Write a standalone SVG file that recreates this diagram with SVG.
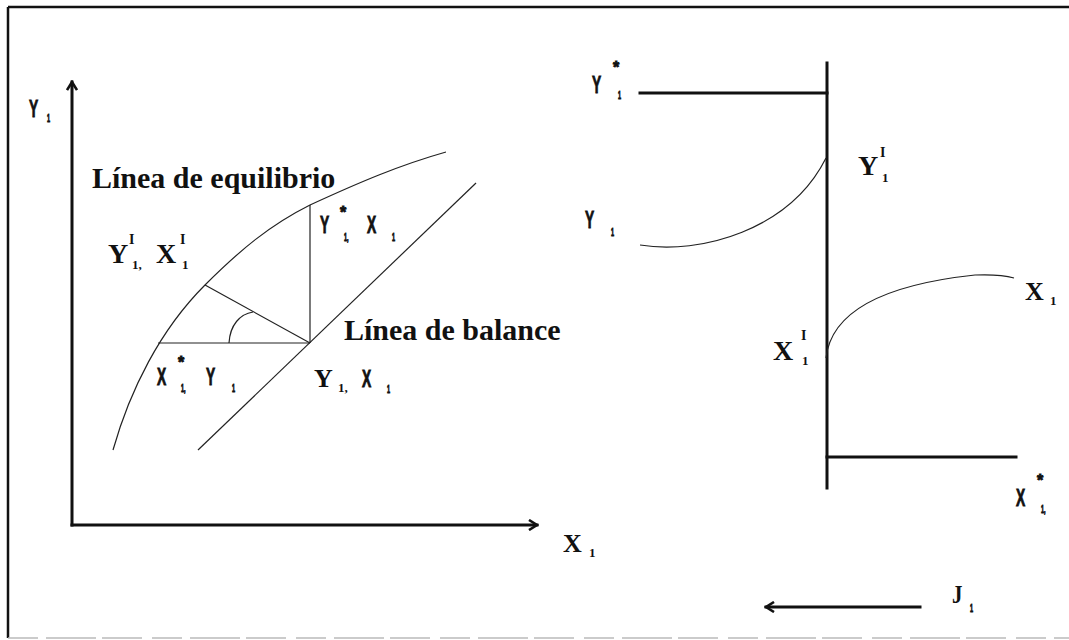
<svg xmlns="http://www.w3.org/2000/svg" width="1069" height="640" viewBox="0 0 1069 640">
<style>
.thick{stroke:#111;stroke-width:3;fill:none;stroke-linecap:square}
.thin{stroke:#222;stroke-width:1.2;fill:none}
.b{font-family:"Liberation Serif",serif;font-weight:bold;fill:#111}
.c{font-family:"Liberation Sans",sans-serif;font-weight:bold;fill:#111;stroke:#111;stroke-width:0.9}
</style>
<defs>
<marker id="chev" viewBox="0 0 12 12" refX="10" refY="6" markerWidth="12" markerHeight="12" markerUnits="userSpaceOnUse" orient="auto">
<path d="M2,1 L10,6 L2,11" stroke="#111" stroke-width="2.6" fill="none"/>
</marker>
</defs>
<rect width="1069" height="640" fill="#fff"/>
<g id="frame">
<line x1="8" y1="7" x2="1069" y2="7" stroke="#111" stroke-width="2.5"/>
<line x1="8" y1="7" x2="8" y2="638" stroke="#111" stroke-width="2.5"/>
<line x1="8" y1="638" x2="1069" y2="638" stroke="#bbb" stroke-width="1.5" stroke-dasharray="30,8,50,6,40,10"/>
</g>
<g id="connectors">
<line class="thick" x1="72" y1="525" x2="72" y2="82" marker-end="url(#chev)"/>
<line class="thick" x1="72" y1="525" x2="537" y2="525" marker-end="url(#chev)"/>
<path class="thin" d="M113,450 C130,390 160,330 205,285 C240,250 270,225 310,205 C360,182 400,165 446,152"/>
<line class="thin" x1="198" y1="450" x2="476" y2="183"/>
<line class="thin" x1="310" y1="205" x2="310" y2="343"/>
<line class="thin" x1="158" y1="343" x2="310" y2="343"/>
<line class="thin" x1="205" y1="285" x2="310" y2="343"/>
<path class="thin" d="M229,343 C230,325 240,314 253,312"/>
<line class="thick" x1="827" y1="63" x2="827" y2="488"/>
<line class="thick" x1="640" y1="93" x2="827" y2="93"/>
<line class="thick" x1="827" y1="457" x2="1016" y2="457"/>
<path class="thin" d="M640,245 C700,255 790,230 826,158"/>
<path class="thin" d="M826,358 C832,305 900,283 975,275 Q1000,274 1014,278"/>
<line class="thick" x1="920" y1="607" x2="766" y2="607" marker-end="url(#chev)"/>
</g>
<g id="label-y-axis">
<text class="c" font-size="23" transform="translate(29 117) scale(0.6 1)">Y</text>
<text class="c" font-size="11" transform="translate(47 122) scale(0.5 1)">1</text>
</g>
<g id="label-equilibrio"><text class="b" font-size="30" x="92" y="188">Línea de equilibrio</text></g>
<g id="label-balance"><text class="b" font-size="30" x="344" y="340">Línea de balance</text></g>
<g id="label-yi-xi">
<text class="b" font-size="28" x="108" y="263">Y</text>
<text class="b" font-size="14" x="129" y="244">I</text>
<text class="b" font-size="13" x="132" y="269">1,</text>
<text class="b" font-size="28" x="156" y="263">X</text>
<text class="b" font-size="14" x="180" y="244">I</text>
<text class="b" font-size="13" x="182" y="269">1</text>
</g>
<g id="label-ystar-x">
<text class="c" font-size="23" transform="translate(320 233) scale(0.6 1)">Y</text>
<text class="c" font-size="16" x="340" y="218">*</text>
<text class="c" font-size="11" transform="translate(344 241) scale(0.5 1)">1,</text>
<text class="c" font-size="23" transform="translate(367 233) scale(0.6 1)">X</text>
<text class="c" font-size="11" transform="translate(392 241) scale(0.5 1)">1</text>
</g>
<g id="label-xstar-y">
<text class="c" font-size="23" transform="translate(157 385) scale(0.6 1)">X</text>
<text class="c" font-size="16" x="178" y="368">*</text>
<text class="c" font-size="11" transform="translate(181 392) scale(0.5 1)">1,</text>
<text class="c" font-size="23" transform="translate(206 385) scale(0.6 1)">Y</text>
<text class="c" font-size="11" transform="translate(232 392) scale(0.5 1)">1</text>
</g>
<g id="label-y-x">
<text class="b" font-size="26" x="314" y="387">Y</text>
<text class="b" font-size="13" x="338" y="392">1,</text>
<text class="c" font-size="23" transform="translate(362 387) scale(0.6 1)">X</text>
<text class="c" font-size="11" transform="translate(387 393) scale(0.5 1)">1</text>
</g>
<g id="label-x-axis">
<text class="b" font-size="26" x="563" y="552">X</text>
<text class="b" font-size="13" x="589" y="557">1</text>
</g>
<g id="label-ystar-right">
<text class="c" font-size="23" transform="translate(592 93) scale(0.6 1)">Y</text>
<text class="c" font-size="16" x="613" y="73">*</text>
<text class="c" font-size="11" transform="translate(618 99) scale(0.5 1)">1</text>
</g>
<g id="label-y-right">
<text class="c" font-size="23" transform="translate(585 228) scale(0.6 1)">Y</text>
<text class="c" font-size="11" transform="translate(611 236) scale(0.5 1)">1</text>
</g>
<g id="label-yi-right">
<text class="b" font-size="28" x="858" y="175">Y</text>
<text class="b" font-size="14" x="880" y="157">I</text>
<text class="b" font-size="13" x="882" y="182">1</text>
</g>
<g id="label-x-right">
<text class="b" font-size="26" x="1025" y="300">X</text>
<text class="b" font-size="13" x="1050" y="305">1</text>
</g>
<g id="label-xi-right">
<text class="b" font-size="28" x="773" y="360">X</text>
<text class="b" font-size="14" x="801" y="340">I</text>
<text class="b" font-size="13" x="802" y="365">1</text>
</g>
<g id="label-xstar-right">
<text class="c" font-size="23" transform="translate(1016 506) scale(0.6 1)">X</text>
<text class="c" font-size="16" x="1037" y="486">*</text>
<text class="c" font-size="11" transform="translate(1041 513) scale(0.5 1)">1,</text>
</g>
<g id="label-j">
<text class="b" font-size="26" transform="translate(952 603) scale(0.8 1)">J</text>
<text class="c" font-size="11" transform="translate(970 612) scale(0.5 1)">1</text>
</g>
</svg>
